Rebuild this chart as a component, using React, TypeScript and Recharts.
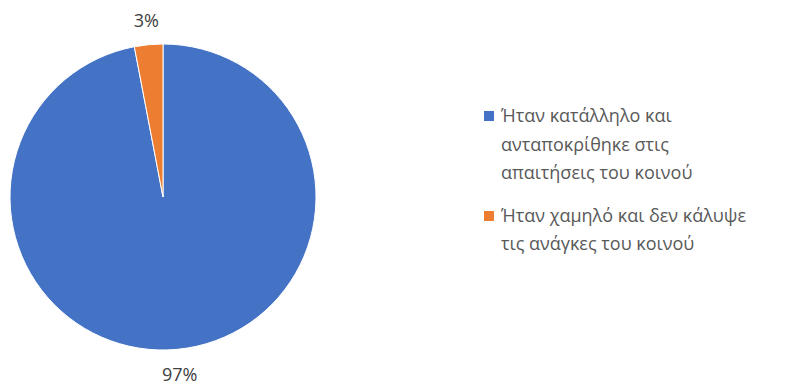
import React from 'react';
import { PieChart, Pie, Cell } from 'recharts';

const categories = [
  'Ήταν κατάλληλο και ανταποκρίθηκε στις απαιτήσεις του κοινού',
  'Ήταν χαμηλό και δεν κάλυψε τις ανάγκες του κοινού',
];
const legendLines = [
  ['Ήταν κατάλληλο και', 'ανταποκρίθηκε στις', 'απαιτήσεις του κοινού'],
  ['Ήταν χαμηλό και δεν κάλυψε', 'τις ανάγκες του κοινού'],
];
const values = [97, 3];
const colors = ['#4472C4', '#ED7D31'];

const data = categories.map((name, i) => ({ name, value: values[i] }));

const FONT = "'Open Sans', 'Noto Sans', sans-serif";
const RADIAN = Math.PI / 180;

const renderLabel = ({ cx, cy, midAngle, outerRadius, percent }: any) => {
  const r = outerRadius + 25;
  const x = cx + r * Math.cos(-midAngle * RADIAN);
  const y = cy + r * Math.sin(-midAngle * RADIAN);
  return (
    <text x={x} y={y} fill="#404040" fontSize={18} fontFamily={FONT} textAnchor="middle" dominantBaseline="central">
      {`${Math.round(percent * 100)}%`}
    </text>
  );
};

export default function App() {
  return (
    <div style={{ position: 'absolute', left: 0, top: 0, width: 795, height: 385, background: '#fff' }}>
      <PieChart width={795} height={385} margin={{ top: 0, right: 0, bottom: 0, left: 0 }}>
        <Pie
          data={data}
          dataKey="value"
          cx={163}
          cy={197}
          outerRadius={153}
          startAngle={90}
          endAngle={-270}
          stroke="#fff"
          strokeWidth={1}
          label={renderLabel}
          labelLine={false}
          isAnimationActive={false}
        >
          {data.map((_, i) => (
            <Cell key={i} fill={colors[i]} />
          ))}
        </Pie>
      </PieChart>
      <div
        style={{
          position: 'absolute',
          left: 484,
          top: 101,
          fontFamily: FONT,
          fontSize: 18,
          color: '#595959',
          lineHeight: '28.5px',
        }}
      >
        {legendLines.map((lines, i) => (
          <div key={i} style={{ display: 'flex', marginBottom: i === 0 ? 14 : 0 }}>
            <div style={{ width: 10, height: 10, background: colors[i], marginTop: 10, marginRight: 7, flexShrink: 0 }} />
            <div>
              {lines.map((l, j) => (
                <div key={j} style={{ whiteSpace: 'nowrap' }}>{l}</div>
              ))}
            </div>
          </div>
        ))}
      </div>
    </div>
  );
}
